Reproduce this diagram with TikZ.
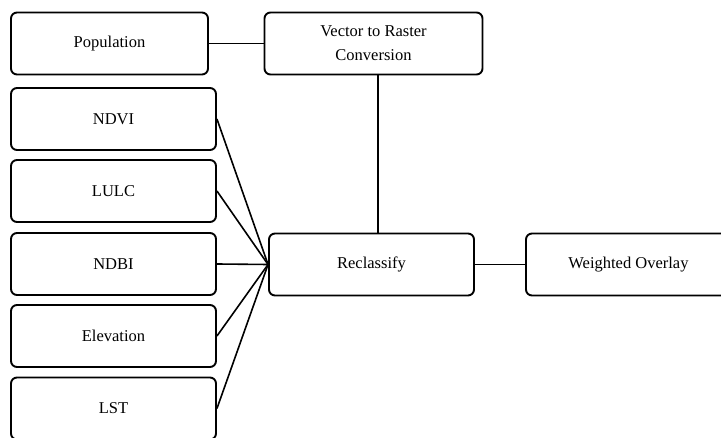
\documentclass[tikz,border=0pt]{standalone}
\usepackage{fontspec}
\setmainfont{Liberation Serif}
\begin{document}
\begin{tikzpicture}[x=1pt,y=-1pt,
  box/.style={draw=black,line width=1.9pt,rounded corners=6pt,fill=white,
    inner sep=0pt,align=center,font=\fontsize{16.5}{24}\selectfont},
  link/.style={draw=black,line width=1.6pt}]
\useasboundingbox (0,0) rectangle (721,438);
\clip (0,0) rectangle (721,438);
\node[box,minimum width=197pt,minimum height=62pt] (pop) at (109.5,43.5) {Population};
\node[box,minimum width=218pt,minimum height=62pt] (vec) at (373.5,43.5) {Vector to Raster\\Conversion};
\node[box,minimum width=205pt,minimum height=62pt] (ndvi) at (113.5,119) {NDVI};
\node[box,minimum width=205pt,minimum height=62pt] (lulc) at (113.5,191) {LULC};
\node[box,minimum width=205pt,minimum height=62pt] (ndbi) at (113.5,264) {NDBI};
\node[box,minimum width=205pt,minimum height=62pt] (elev) at (113.5,336) {Elevation};
\node[box,minimum width=205pt,minimum height=62pt] (lst) at (113.5,408.5) {LST};
\node[box,minimum width=205pt,minimum height=62pt] (rec) at (371.5,264.5) {Reclassify};
\node[box,minimum width=205pt,minimum height=62pt] (wo) at (628.5,264.5) {Weighted Overlay};
\draw[link] (pop.east) -- (vec.west);
\draw[link] ([xshift=4.5pt]vec.south) -- ([xshift=4.5pt]vec.south |- rec.north);
\foreach \n in {ndvi,lulc,ndbi,elev,lst}
  \draw[link] (\n.east) -- (rec.west);
\draw[link] (rec.east) -- (wo.west);
\end{tikzpicture}
\end{document}
